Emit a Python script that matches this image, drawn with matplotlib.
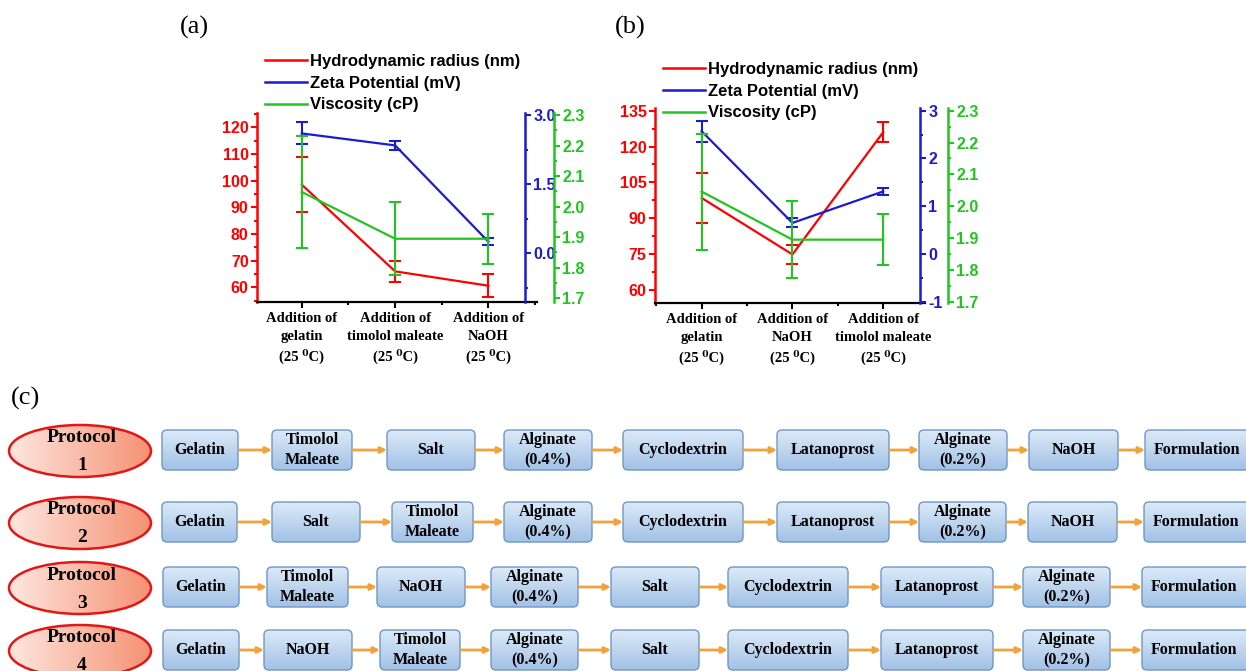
import numpy as np
import matplotlib
matplotlib.use("Agg")
import matplotlib.pyplot as plt
from matplotlib.patches import FancyBboxPatch, Ellipse
from matplotlib.colors import LinearSegmentedColormap
from matplotlib.lines import Line2D
from matplotlib.ticker import MultipleLocator, FixedLocator, FormatStrFormatter

plt.rcParams['axes.unicode_minus'] = False

# ---------------- data: panel (a)
steps_a = ["Addition of\ngelatin\n(25 \u2070C)",
           "Addition of\ntimolol maleate\n(25 \u2070C)",
           "Addition of\nNaOH\n(25 \u2070C)"]
radius_a = [98.5, 66.0, 60.6]
radius_a_err = [10.4, 4.0, 4.4]
zeta_a = [2.60, 2.34, 0.25]
zeta_a_err = [0.24, 0.10, 0.08]
visc_a = [2.048, 1.895, 1.895]
visc_a_err = [0.184, 0.12, 0.082]

# ---------------- data: panel (b)
steps_b = ["Addition of\ngelatin\n(25 \u2070C)",
           "Addition of\nNaOH\n(25 \u2070C)",
           "Addition of\ntimolol maleate\n(25 \u2070C)"]
radius_b = [98.5, 74.9, 126.0]
radius_b_err = [10.5, 4.0, 4.3]
zeta_b = [2.57, 0.65, 1.31]
zeta_b_err = [0.22, 0.095, 0.08]
visc_b = [2.046, 1.895, 1.895]
visc_b_err = [0.182, 0.12, 0.08]

legend_labels = ["Hydrodynamic radius (nm)", "Zeta Potential (mV)", "Viscosity (cP)"]

# ---------------- data: panel (c)
protocol_names = ["1", "2", "3", "4"]
protocol_steps = [
    ["Gelatin", "Timolol\nMaleate", "Salt", "Alginate\n(0.4%)", "Cyclodextrin",
     "Latanoprost", "Alginate\n(0.2%)", "NaOH", "Formulation"],
    ["Gelatin", "Salt", "Timolol\nMaleate", "Alginate\n(0.4%)", "Cyclodextrin",
     "Latanoprost", "Alginate\n(0.2%)", "NaOH", "Formulation"],
    ["Gelatin", "Timolol\nMaleate", "NaOH", "Alginate\n(0.4%)", "Salt",
     "Cyclodextrin", "Latanoprost", "Alginate\n(0.2%)", "Formulation"],
    ["Gelatin", "NaOH", "Timolol\nMaleate", "Alginate\n(0.4%)", "Salt",
     "Cyclodextrin", "Latanoprost", "Alginate\n(0.2%)", "Formulation"],
]

# layout of the flow chart (pixels)
box_x = [
    [(162, 238), (272, 352), (387, 475), (504, 592), (623, 743), (777, 889), (919, 1007), (1029, 1118), (1145, 1262)],
    [(162, 237), (272, 360), (392, 473), (504, 592), (623, 743), (777, 889), (919, 1006), (1028, 1117), (1144, 1262)],
    [(163, 239), (267, 348), (377, 465), (491, 578), (611, 699), (728, 848), (881, 993), (1023, 1110), (1142, 1262)],
    [(163, 239), (264, 352), (380, 460), (491, 578), (611, 699), (728, 848), (881, 993), (1023, 1110), (1142, 1262)],
]
row_y = [450, 522, 587, 650]

W, H = 1246, 671
RED, BLUE, GREEN = '#ff0000', '#1c1ccc', '#22c422'
SANS = 'Liberation Sans'
SERIF = ['Liberation Serif', 'DejaVu Serif']

fig = plt.figure(figsize=(W / 100, H / 100), dpi=100)

# ---------------- panel (c) flow chart, drawn in pixel coords
axc = fig.add_axes([0, 0, 1, 1], zorder=0)


def shaded(ax, patch, extent, c0, c1, horizontal):
    grad = np.linspace(0, 1, 64)
    arr = grad[None, :] if horizontal else grad[:, None]
    cmap = LinearSegmentedColormap.from_list('g', [c0, c1])
    im = ax.imshow(arr, cmap=cmap, extent=extent, aspect='auto', origin='upper',
                   interpolation='bilinear', zorder=1)
    ax.add_patch(patch)
    im.set_clip_path(patch)


for r, (name, steps) in enumerate(zip(protocol_names, protocol_steps)):
    yc = row_y[r]
    ell = Ellipse((80, yc + 1), 142, 52, fc='none', ec='#e01818', lw=1.8, zorder=2)
    shaded(axc, ell, (9, 151, yc + 27, yc - 25), '#fde6de', '#f59274', True)
    axc.text(82, yc - 12, "Protocol", ha='center', va='center', fontsize=14,
             fontfamily=SERIF, fontweight='bold', zorder=3)
    axc.text(82, yc + 16, name, ha='center', va='center', fontsize=14,
             fontfamily=SERIF, fontweight='bold', zorder=3)
    for i, label in enumerate(steps):
        x0, x1 = box_x[r][i]
        y0, y1 = yc - 20, yc + 20
        box = FancyBboxPatch((x0, y0), x1 - x0, y1 - y0,
                             boxstyle='round,pad=0,rounding_size=5',
                             fc='none', ec='#6f97c6', lw=1.0, zorder=2)
        shaded(axc, box, (x0, x1, y1, y0), '#dceaf8', '#a2c1e6', False)
        tx = (x0 + x1) / 2 if x1 < W else x0 + 52
        axc.text(tx, yc, label, ha='center', va='center', fontsize=11.5,
                 fontfamily=SERIF, fontweight='bold', linespacing=1.4, zorder=3)
        if i + 1 < len(steps):
            nx0 = box_x[r][i + 1][0]
            axc.annotate('', xy=(nx0, yc), xytext=(x1 + 1, yc),
                         arrowprops=dict(arrowstyle='-|>', color='#f2a23a', lw=2,
                                         mutation_scale=9, shrinkA=0, shrinkB=0),
                         zorder=2)

axc.set_xlim(0, W)
axc.set_ylim(H, 0)
axc.axis('off')

axc.text(25, 398, "(c)", ha='center', va='center', fontsize=19, fontfamily=SERIF)
axc.text(194, 27, "(a)", ha='center', va='center', fontsize=19, fontfamily=SERIF)
axc.text(630, 27, "(b)", ha='center', va='center', fontsize=19, fontfamily=SERIF)


# ---------------- panels (a) and (b)
def panel(box, steps, radius, radius_err, zeta, zeta_err, visc, visc_err,
          xlim, red_lim, red_major, red_minor, blue_lim, blue_major, blue_minor,
          blue_fmt, green_lim, blue_pos, green_pos, legend_xy):
    left, right, top, bottom = box
    ax = fig.add_axes([left / W, 1 - bottom / H, (right - left) / W, (bottom - top) / H],
                      zorder=2)
    ax.patch.set_alpha(0)
    x = np.arange(len(steps))
    ekw = dict(lw=1.6, capsize=4.5, capthick=1.5, elinewidth=1.5)

    ax.errorbar(x, radius, yerr=radius_err, color=RED, **ekw)
    ax.set_xlim(*xlim)
    ax.set_ylim(*red_lim)
    ax.yaxis.set_major_locator(MultipleLocator(red_major))
    ax.yaxis.set_minor_locator(MultipleLocator(red_minor))
    ax.spines['top'].set_visible(False)
    ax.spines['right'].set_visible(False)
    ax.spines['left'].set_color(RED)
    ax.spines['left'].set_linewidth(1.8)
    ax.spines['bottom'].set_linewidth(1.6)
    ax.tick_params(axis='y', which='both', colors=RED, width=1.5, direction='out')
    ax.tick_params(axis='y', which='major', length=4, pad=2)
    ax.tick_params(axis='y', which='minor', length=2.5)
    ax.tick_params(axis='x', which='both', width=1.5, direction='out')
    ax.tick_params(axis='x', which='major', length=4, pad=3)
    ax.tick_params(axis='x', which='minor', length=2.5)
    ax.set_xticks(x)
    ax.set_xticklabels(steps, fontfamily=SERIF, fontweight='bold', fontsize=10.5,
                       linespacing=1.5)
    ax.xaxis.set_minor_locator(FixedLocator([-0.5, 0.5, 1.5, 2.5]))
    for t in ax.get_yticklabels():
        t.set_fontfamily(SANS)
        t.set_fontweight('bold')
        t.set_fontsize(11.5)

    axb = ax.twinx()
    axb.errorbar(x, zeta, yerr=zeta_err, color=BLUE, **ekw)
    axb.set_ylim(*blue_lim)
    axb.yaxis.set_major_locator(FixedLocator(blue_major))
    axb.yaxis.set_minor_locator(FixedLocator(blue_minor))
    axb.yaxis.set_major_formatter(FormatStrFormatter(blue_fmt))

    axg = ax.twinx()
    axg.errorbar(x, visc, yerr=visc_err, color=GREEN, **ekw)
    axg.set_ylim(*green_lim)
    axg.yaxis.set_major_locator(FixedLocator(np.arange(1.7, 2.31, 0.1)))
    axg.yaxis.set_minor_locator(MultipleLocator(0.05))
    axg.yaxis.set_major_formatter(FormatStrFormatter('%.1f'))

    for a, c, pos in ((axb, BLUE, blue_pos), (axg, GREEN, green_pos)):
        for s in ('left', 'top', 'bottom'):
            a.spines[s].set_visible(False)
        a.spines['right'].set_position(('axes', pos))
        a.spines['right'].set_color(c)
        a.spines['right'].set_linewidth(1.8)
        a.tick_params(axis='y', which='both', colors=c, width=1.5, direction='out')
        a.tick_params(axis='y', which='major', length=4, pad=2)
        a.tick_params(axis='y', which='minor', length=2.5)
        for t in a.get_yticklabels():
            t.set_fontfamily(SANS)
            t.set_fontweight('bold')
            t.set_fontsize(11.5)

    handles = [Line2D([], [], color=c, lw=1.8) for c in (RED, BLUE, GREEN)]
    fig.legend(handles, legend_labels, loc='upper left',
               bbox_to_anchor=(legend_xy[0] / W, 1 - legend_xy[1] / H),
               frameon=False, borderpad=0, borderaxespad=0, handlelength=2.5,
               handletextpad=0.2, labelspacing=0.4,
               prop=dict(family=SANS, weight='bold', size=12))


panel((257, 537, 113, 302), steps_a, radius_a, radius_a_err, zeta_a, zeta_a_err,
      visc_a, visc_a_err, xlim=(-0.48, 2.52), red_lim=(54.5, 125.4), red_major=10,
      red_minor=5, blue_lim=(-1.056, 3.043), blue_major=[0, 1.5, 3.0],
      blue_minor=[-0.75, 0.75, 2.25], blue_fmt='%.1f', green_lim=(1.688, 2.3065),
      blue_pos=0.957, green_pos=1.061, legend_xy=(265, 54))

panel((655, 925, 108, 303), steps_b, radius_b, radius_b_err, zeta_b, zeta_b_err,
      visc_b, visc_b_err, xlim=(-0.514, 2.46), red_lim=(54.6, 136.1), red_major=15,
      red_minor=7.5, blue_lim=(-1.027, 3.057), blue_major=[-1, 0, 1, 2, 3],
      blue_minor=[-0.5, 0.5, 1.5, 2.5], blue_fmt='%d', green_lim=(1.696, 2.3085),
      blue_pos=0.981, green_pos=1.085, legend_xy=(663, 62))

fig.savefig("out.png", dpi=100)
